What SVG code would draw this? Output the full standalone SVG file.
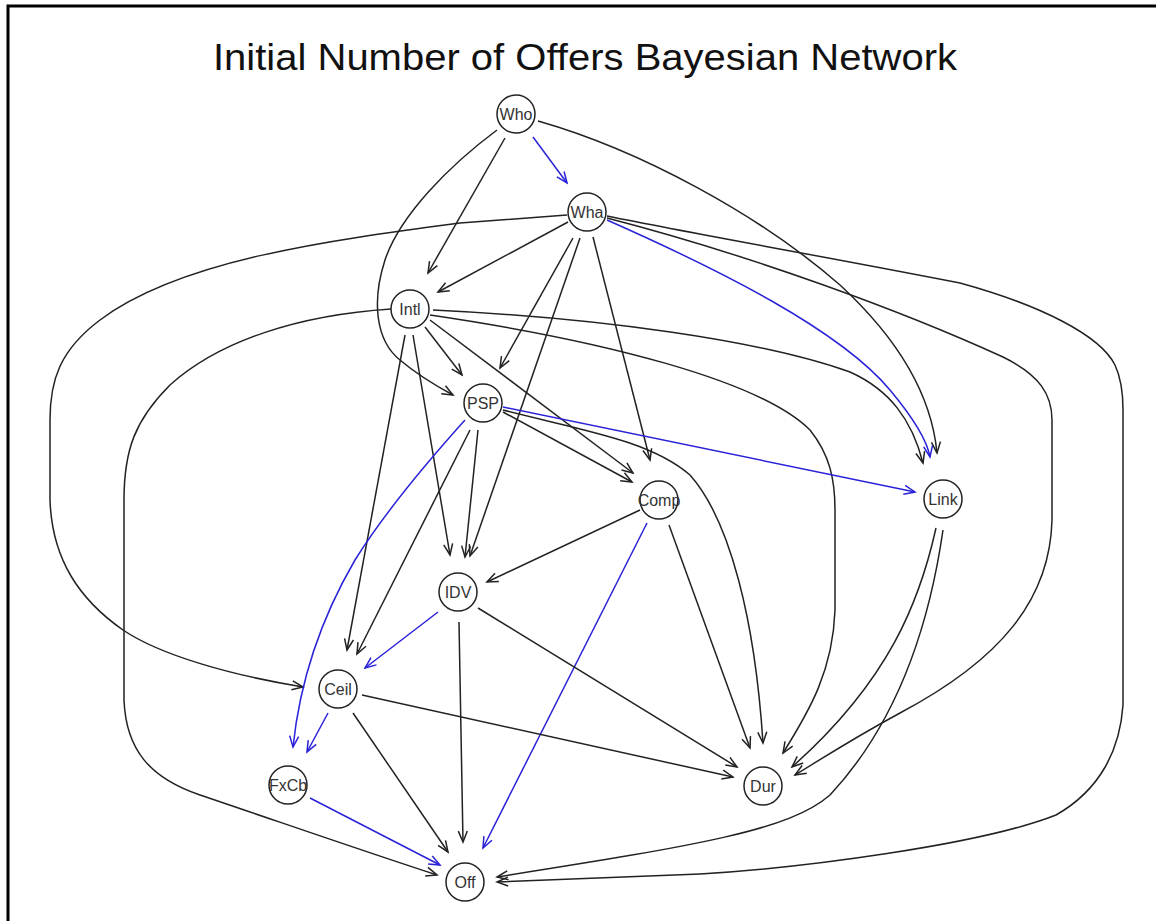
<svg xmlns="http://www.w3.org/2000/svg" width="1156" height="921" viewBox="0 0 1156 921">
<style>
.e{fill:none;stroke:#222;stroke-width:1.5;marker-end:url(#ab)}
.b{fill:none;stroke:#2a22d8;stroke-width:1.5;marker-end:url(#au)}
.n circle{fill:none;stroke:#222;stroke-width:1.5}
.n text{font-family:"Liberation Sans",Arial,sans-serif;font-size:16px;fill:#333;text-anchor:middle}
.t{font-family:"Liberation Sans",Arial,sans-serif;font-size:37px;fill:#111;text-anchor:middle}
</style>
<defs>
<marker id="ab" viewBox="-13 -6 15 12" refX="0" refY="0" markerWidth="15" markerHeight="12" orient="auto" markerUnits="userSpaceOnUse"><path d="M-11,-4.5 L0,0 L-11,4.5" fill="none" stroke="#222" stroke-width="1.5"/></marker>
<marker id="au" viewBox="-13 -6 15 12" refX="0" refY="0" markerWidth="15" markerHeight="12" orient="auto" markerUnits="userSpaceOnUse"><path d="M-11,-4.5 L0,0 L-11,4.5" fill="none" stroke="#2a22d8" stroke-width="1.5"/></marker>
</defs>
<rect width="1156" height="921" fill="#fff"/>
<g id="frame" fill="none" stroke="#000" stroke-width="3">
<path d="M8,930 L8,6 L1160,6"/>
</g>
<text class="t" x="585" y="70" textLength="744" lengthAdjust="spacingAndGlyphs">Initial Number of Offers Bayesian Network</text>
<g id="edges">
<path class="b" d="M533,137 L567,183"/>
<path class="e" d="M505,138 L428,273"/>
<path class="e" d="M497,130 C450,165 400,215 385,260 C372,300 375,340 400,360 C420,377 440,388 453,395"/>
<path class="e" d="M538,121 C640,150 760,215 840,285 C905,345 932,400 937,453"/>
<path class="e" d="M568,222 L438,292"/>
<path class="e" d="M573,238 L500,368"/>
<path class="e" d="M580,238 L470,556"/>
<path class="e" d="M593,237 L650,460"/>
<path class="b" d="M607,220 C720,270 840,330 890,390 C915,420 927,440 930,457"/>
<path class="e" d="M567,215 L460,223 C330,240 180,260 100,320 C60,350 50,380 50,420 L50,500 C52,560 80,600 123,630 C160,655 230,675 303,687"/>
<path class="e" d="M607,218 C750,255 900,310 1003,357 C1040,375 1052,395 1052,420 L1052,520 C1050,600 1000,660 900,713 C850,740 820,760 795,775"/>
<path class="e" d="M607,216 C700,235 800,252 960,283 C1040,305 1100,335 1115,365 C1122,380 1123,395 1123,410 L1123,705 C1120,750 1100,790 1056,815 C980,845 800,868 700,874 L497,882"/>
<path class="e" d="M425,327 L462,375"/>
<path class="e" d="M430,320 L633,473"/>
<path class="e" d="M413,335 L450,555"/>
<path class="e" d="M405,335 L347,650"/>
<path class="e" d="M433,310 C600,318 760,340 850,372 C890,390 912,420 923,463"/>
<path class="e" d="M430,315 C600,340 760,380 810,430 C830,455 835,480 835,510 L835,610 C833,670 810,710 783,753"/>
<path class="e" d="M391,309 C300,315 220,340 170,385 C135,420 124,450 124,500 L124,700 C126,750 150,778 200,795 C280,822 360,850 437,875"/>
<path class="b" d="M503,407 L915,492"/>
<path class="e" d="M503,412 L632,482"/>
<path class="e" d="M503,410 C580,430 650,440 690,475 C730,520 755,620 763,743"/>
<path class="e" d="M478,430 L465,557"/>
<path class="e" d="M470,430 L357,654"/>
<path class="b" d="M465,420 C420,470 380,520 355,560 C320,620 300,680 293,747"/>
<path class="e" d="M640,510 L487,582"/>
<path class="b" d="M647,523 L483,848"/>
<path class="e" d="M669,525 L750,748"/>
<path class="e" d="M936,528 C920,600 890,680 792,767"/>
<path class="e" d="M943,530 C930,620 900,720 830,795 C790,830 700,845 497,877"/>
<path class="b" d="M438,612 L365,668"/>
<path class="e" d="M459,622 L463,842"/>
<path class="e" d="M478,608 L737,767"/>
<path class="b" d="M328,713 L307,752"/>
<path class="e" d="M362,695 L733,777"/>
<path class="e" d="M353,713 L448,852"/>
<path class="b" d="M310,798 L440,865"/>
</g>
<g id="Who" class="n"><circle cx="516" cy="114" r="19"/><text x="516" y="120">Who</text></g>
<g id="Wha" class="n"><circle cx="587" cy="212" r="19"/><text x="587" y="218">Wha</text></g>
<g id="Intl" class="n"><circle cx="410" cy="309" r="19"/><text x="410" y="315">Intl</text></g>
<g id="PSP" class="n"><circle cx="483" cy="403" r="19"/><text x="483" y="409">PSP</text></g>
<g id="Comp" class="n"><circle cx="659" cy="500" r="19"/><text x="659" y="506">Comp</text></g>
<g id="Link" class="n"><circle cx="943" cy="499" r="19"/><text x="943" y="505">Link</text></g>
<g id="IDV" class="n"><circle cx="458" cy="592" r="19"/><text x="458" y="598">IDV</text></g>
<g id="Ceil" class="n"><circle cx="338" cy="689" r="19"/><text x="338" y="695">Ceil</text></g>
<g id="FxCb" class="n"><circle cx="288" cy="785" r="19"/><text x="288" y="791">FxCb</text></g>
<g id="Dur" class="n"><circle cx="763" cy="786" r="19"/><text x="763" y="792">Dur</text></g>
<g id="Off" class="n"><circle cx="465" cy="882" r="19"/><text x="465" y="888">Off</text></g>
</svg>
